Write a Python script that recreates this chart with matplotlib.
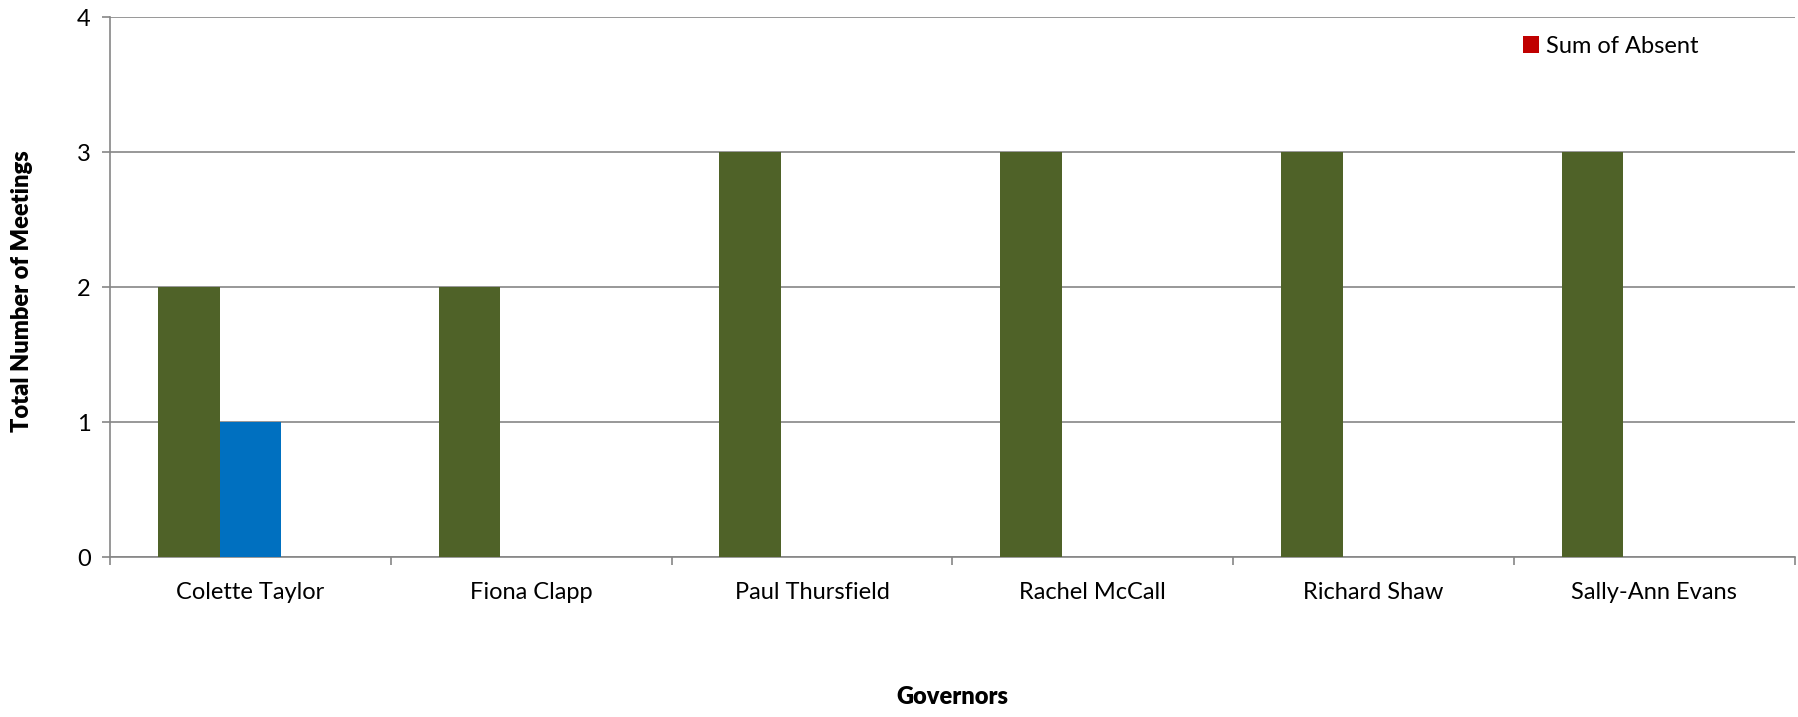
import numpy as np
import matplotlib.pyplot as plt
from matplotlib.ticker import FixedLocator

# Data
governors = ["Colette Taylor", "Fiona Clapp", "Paul Thursfield",
             "Rachel McCall", "Richard Shaw", "Sally-Ann Evans"]
present = [2, 2, 3, 3, 3, 3]
apologies = [1, 0, 0, 0, 0, 0]
absent = [0, 0, 0, 0, 0, 0]

plt.rcParams['font.family'] = ['Lato', 'DejaVu Sans']

fig = plt.figure(figsize=(17.98, 7.17), dpi=100)
ax = fig.add_axes([0.0612, 0.223, 0.937, 0.753])

x = np.arange(len(governors))
w = 0.22
ax.bar(x - w, present, w, color="#4f6228", zorder=3)
ax.bar(x, apologies, w, color="#0070c0", zorder=3)
ax.bar(x + w, absent, w, color="#c00000", zorder=3, label="Sum of Absent")

ax.set_xlim(-0.5, len(governors) - 0.5)
ax.set_ylim(0, 4)
ax.set_yticks([0, 1, 2, 3, 4])
ax.set_xticks(x)
ax.set_xticklabels(governors, fontsize=17)
ax.tick_params(axis='x', length=0, pad=18)
ax.xaxis.set_minor_locator(FixedLocator(np.arange(-0.5, len(governors), 1)))
ax.tick_params(axis='x', which='minor', length=6, color="#868686", width=1.2)
ax.tick_params(axis='y', length=6, color="#868686", width=1.2, labelsize=17, pad=8)

ax.grid(axis='y', color="#868686", linewidth=1.2, zorder=0)
for s in ['top', 'right']:
    ax.spines[s].set_visible(False)
for s in ['left', 'bottom']:
    ax.spines[s].set_color("#868686")
    ax.spines[s].set_linewidth(1.2)

fig.text(0.012, 1 - 291 / 717, "Total Number of Meetings", rotation=90,
         fontsize=17, fontweight='heavy', ha='center', va='center')
fig.text(0.0612 + 0.937 / 2, 1 - 697 / 717, "Governors",
         fontsize=17, fontweight='heavy', ha='center', va='center')

ax.legend(loc='center right', bbox_to_anchor=(0.943, 0.946), frameon=False,
          fontsize=17, handlelength=0.7, handleheight=0.7, handletextpad=0.3,
          borderpad=0, borderaxespad=0)

fig.savefig("out.png", dpi=100)
